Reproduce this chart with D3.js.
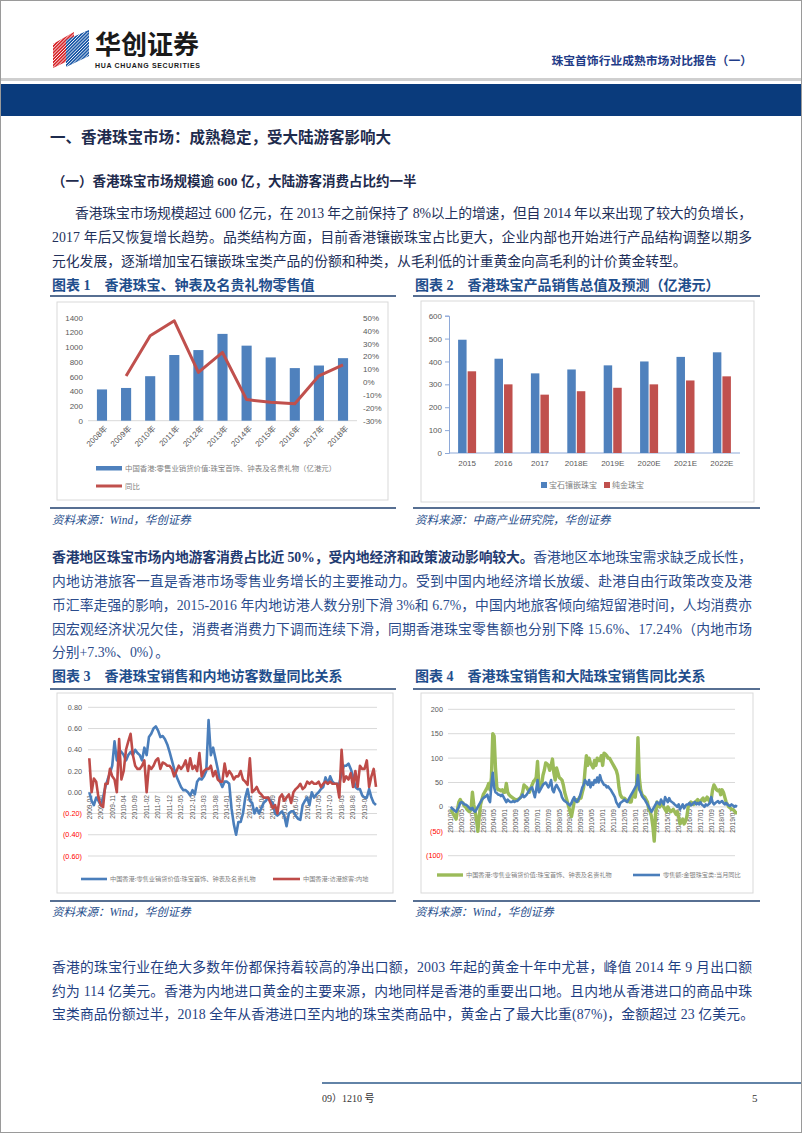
<!DOCTYPE html>
<html><head><meta charset="utf-8">
<script src="https://cdn.jsdelivr.net/npm/d3@7"></script>
<style>body{margin:0;background:#fff}svg{display:block}</style>
</head><body><div id="root"></div>
<script>
// ---------- DATA ----------
const years1 = ["2008年","2009年","2010年","2011年","2012年","2013年","2014年","2015年","2016年","2017年","2018年"];
const retail1 = [425,445,605,893,960,1180,1020,860,715,750,850];
const yoy1 = [null,4.7,36,47.6,7.5,23,-13.6,-15.7,-16.9,4.9,13.3];
const ticks1L = [0,200,400,600,800,1000,1200,1400];
const ticks1R = [-30,-20,-10,0,10,20,30,40,50];

const cats2 = ["2015","2016","2017","2018E","2019E","2020E","2021E","2022E"];
const gem2 = [495,412,348,365,383,400,420,440];
const gold2 = [357,300,255,270,285,300,317,335];
const ticks2 = [0,100,200,300,400,500,600];

const labels3 = ["2009-01","2009-06","2009-11","2010-04","2010-09","2011-02","2011-07","2011-12","2012-05","2012-10","2013-03","2013-08","2014-01","2014-06","2014-11","2015-04","2015-09","2016-02","2016-07","2016-12","2017-05","2017-10","2018-03","2018-08","2019-01"];
const ticks3 = [-0.6,-0.4,-0.2,0,0.2,0.4,0.6,0.8];
const hkJewel3 = [0.00,-0.08,-0.12,-0.05,-0.08,-0.12,-0.05,0.05,0.12,0.18,
0.25,0.48,0.30,0.40,0.38,0.35,0.30,0.35,0.38,0.35,
0.40,0.37,0.35,0.30,0.42,0.35,0.52,0.55,0.60,0.62,
0.58,0.52,0.53,0.50,0.45,0.38,0.30,0.22,0.15,0.10,
0.05,0.02,0.02,0.00,-0.03,0.02,-0.02,0.10,0.13,0.12,
0.15,0.20,0.68,0.35,0.42,0.32,0.22,0.10,0.05,0.10,
0.10,0.08,-0.15,-0.30,-0.40,-0.28,-0.28,-0.20,-0.05,0.03,
-0.08,-0.10,-0.20,-0.15,-0.20,-0.15,-0.10,-0.08,-0.05,-0.08,
-0.10,-0.20,-0.22,-0.20,-0.18,-0.22,-0.32,-0.20,-0.18,-0.18,
-0.22,-0.25,-0.26,-0.12,-0.08,-0.05,-0.12,0.00,-0.05,-0.02,
0.00,0.03,0.05,0.14,0.08,0.15,0.10,0.08,0.08,0.08,
0.18,0.25,0.25,0.27,0.22,0.15,0.05,0.03,0.03,-0.03,
-0.05,-0.05,0.03,-0.05,-0.10,-0.12];
const visitors3 = [0.32,0.00,0.13,0.10,-0.05,-0.12,-0.14,0.08,0.08,0.22,
0.15,0.12,0.00,0.50,0.12,0.20,0.40,0.48,0.55,0.35,
0.25,0.22,0.22,0.25,0.30,0.00,0.25,0.22,0.25,0.30,
0.32,0.22,0.28,0.27,0.25,0.25,0.22,0.15,0.20,0.25,
0.22,0.25,0.30,0.20,0.32,0.22,0.25,0.20,0.37,0.15,
0.20,0.22,0.22,0.25,0.15,0.20,0.12,0.10,0.10,0.27,
0.15,0.20,0.17,0.12,0.15,0.15,0.20,0.12,0.10,0.07,
0.32,0.00,0.02,0.05,0.00,-0.02,-0.05,-0.05,-0.05,-0.10,
-0.15,-0.12,-0.20,-0.05,-0.02,-0.08,-0.05,-0.02,-0.10,0.00,
0.03,0.05,0.08,0.03,0.05,0.10,0.08,0.10,0.08,0.08,
0.10,0.05,0.08,0.10,0.08,0.10,0.08,0.08,0.08,-0.05,
0.40,0.10,0.15,0.12,0.18,0.05,0.20,0.05,0.25,0.22,
0.22,0.30,0.05,0.15,0.22,0.05];

const labels4 = ["2001/09","2002/05","2003/01","2003/09","2004/05","2005/01","2005/09","2006/05","2007/01","2007/09","2008/05","2009/01","2009/09","2010/05","2011/01","2011/09","2012/05","2013/01","2013/09","2014/05","2015/01","2015/09","2016/05","2017/01","2017/09","2018/05","2019/01"];
const ticks4 = [-100,-50,0,50,100,150,200];
const hkJewel4 = [-5,-10,-15,-20,-25,-5,10,15,10,8,
2,0,-5,-8,-10,-5,30,5,-10,-25,
-50,-20,5,15,25,30,35,40,48,35,
60,150,145,80,40,35,35,33,35,30,
30,48,30,25,22,20,18,16,15,15,
16,18,22,30,45,42,40,35,30,38,
45,52,55,60,93,40,42,45,65,75,
90,88,85,75,85,98,70,55,80,70,
60,58,55,45,30,20,10,0,-10,-20,
-5,10,15,15,12,20,18,30,40,75,
105,85,100,90,85,80,95,85,100,95,
95,105,85,110,108,105,100,100,95,90,
85,80,75,65,40,25,20,18,18,15,
12,12,10,10,25,30,20,45,142,60,
35,25,22,20,15,10,-5,-10,-20,-40,
-70,-15,10,5,0,5,5,0,-5,-10,
0,-5,-10,-8,-5,-10,-15,-10,-20,-35,
-30,-25,-35,-30,-20,0,5,10,8,5,
10,12,15,12,10,15,18,12,15,20,
15,10,15,35,45,40,35,33,35,25,
35,30,20,10,5,0,-2,-5,-5,-8,
-12,-12];
const mainland4 = [0,-3,-5,-8,-10,-5,0,8,10,8,
5,5,3,0,-3,-5,-2,-8,-10,-5,
0,5,10,15,18,20,22,25,15,10,
45,70,40,30,28,25,25,22,25,20,
15,10,15,12,10,10,12,10,12,12,
15,18,20,25,20,22,25,30,35,38,
40,30,20,35,55,30,35,40,45,48,
50,45,40,45,55,35,30,40,45,40,
35,30,20,15,12,10,8,5,3,8,
15,20,12,10,15,20,30,40,45,55,
50,45,55,40,50,45,55,50,60,50,
65,55,50,45,45,40,42,38,35,30,
25,20,10,5,0,8,10,12,15,12,
10,15,20,25,30,35,40,45,65,35,
30,22,18,15,10,5,0,-5,-10,-5,
0,5,10,8,5,15,10,5,20,15,
10,18,12,10,8,5,3,0,5,-5,
0,5,-3,2,5,5,8,3,5,8,
10,5,8,5,10,5,3,0,5,3,
5,8,20,10,5,8,10,12,8,10,
12,8,5,8,5,3,2,5,3,0,
2,0];

// ---------- SETUP ----------
const W=802,H=1133;
const CJK="'Noto Sans CJK SC','Noto Sans',sans-serif";
const SER="'Liberation Serif','Noto Sans CJK SC',serif";
const SANS="'Liberation Sans','Noto Sans CJK SC',sans-serif";
const BLUE="#4f81bd", RED="#c0504d", GREEN="#9bbb59", LBLUE="#4a7ebb";
const TICK="#595959";
const svg=d3.select("#root").append("svg").attr("width",W).attr("height",H);

function T(g,x,y,s,o={}){
  const t=g.append("text").attr("x",x).attr("y",y).attr("dy",o.dy||"0.35em")
    .attr("font-family",o.ff||CJK).attr("font-size",o.fs||12).attr("fill",o.fill||"#000").text(s);
  if(o.fw)t.attr("font-weight",o.fw);
  if(o.anchor)t.attr("text-anchor",o.anchor);
  if(o.italic)t.attr("font-style","italic");
  if(o.len)t.attr("textLength",o.len).attr("lengthAdjust","spacing");
  return t;
}
function L(g,x1,y1,x2,y2,c,w){return g.append("line").attr("x1",x1).attr("y1",y1).attr("x2",x2).attr("y2",y2).attr("stroke",c).attr("stroke-width",w);}

// page border
svg.append("rect").attr("x",0.5).attr("y",0.5).attr("width",W-1).attr("height",H-1).attr("fill","none").attr("stroke","#9a9a9a");

// ---------- HEADER ----------
const logo=svg.append("g");
const defs=svg.append("defs");
defs.append("clipPath").attr("id","icoR").append("polygon").attr("points","53,44 74,32 74,58 53,68");
defs.append("clipPath").attr("id","icoB").append("polygon").attr("points","66,40 89,30 89,56 66,67");
const gr=logo.append("g").attr("clip-path","url(#icoR)");
gr.append("rect").attr("x",50).attr("y",28).attr("width",30).attr("height",44).attr("fill","#d7262b");
const gb=logo.append("g").attr("clip-path","url(#icoB)");
gb.append("rect").attr("x",62).attr("y",26).attr("width",30).attr("height",44).attr("fill","#1d5aa8");
[gr,gb].forEach(g=>{for(let k=-40;k<60;k+=3.2){g.append("line").attr("x1",50+k).attr("y1",72).attr("x2",90+k).attr("y2",32).attr("stroke","#fff").attr("stroke-width",0.9);}});
T(logo,95,45,"华创证券",{fs:26,fw:"bold",fill:"#1a1a1a"});
T(logo,95,66,"HUA CHUANG SECURITIES",{fs:7,fw:"bold",ff:SANS,fill:"#1a1a1a",len:105});
T(svg,752,61,"珠宝首饰行业成熟市场对比报告（一）",{fs:11.8,fw:"bold",fill:"#1f3c88",anchor:"end"});
svg.append("rect").attr("x",1).attr("y",78).attr("width",W-2).attr("height",3).attr("fill","#cfcfcf");
svg.append("rect").attr("x",1).attr("y",84).attr("width",W-2).attr("height",32).attr("fill","#0a3b7c");

// ---------- TEXT ----------
const NAVY="#1e2b4d";
T(svg,50,138,"一、香港珠宝市场：成熟稳定，受大陆游客影响大",{fs:15.5,fw:"bold",fill:NAVY});
T(svg,52,181,"（一）香港珠宝市场规模逾 600 亿，大陆游客消费占比约一半",{fs:13.5,fw:"bold",fill:NAVY,ff:SER});

const P1C="#22305a";
T(svg,75,213,"香港珠宝市场规模超过 600 亿元，在 2013 年之前保持了 8%以上的增速，但自 2014 年以来出现了较大的负增长，",{fs:13.8,ff:SER,fill:P1C,len:677});
T(svg,52,237,"2017 年后又恢复增长趋势。品类结构方面，目前香港镶嵌珠宝占比更大，企业内部也开始进行产品结构调整以期多",{fs:13.8,ff:SER,fill:P1C,len:700});
T(svg,52,261,"元化发展，逐渐增加宝石镶嵌珠宝类产品的份额和种类，从毛利低的计重黄金向高毛利的计价黄金转型。",{fs:13.8,ff:SER,fill:P1C});

const P2C="#2b4c8c";
const t2=T(svg,52,557,"",{fs:13.8,ff:SER,fill:P2C,len:700});
t2.append("tspan").attr("font-weight","bold").attr("fill","#1f3a70").text("香港地区珠宝市场内地游客消费占比近 50%，受内地经济和政策波动影响较大。");
t2.append("tspan").text("香港地区本地珠宝需求缺乏成长性，");
T(svg,52,581,"内地访港旅客一直是香港市场零售业务增长的主要推动力。受到中国内地经济增长放缓、赴港自由行政策改变及港",{fs:13.8,ff:SER,fill:P2C,len:700});
T(svg,52,605,"币汇率走强的影响，2015-2016 年内地访港人数分别下滑 3%和 6.7%，中国内地旅客倾向缩短留港时间，人均消费亦",{fs:13.8,ff:SER,fill:P2C,len:700});
T(svg,52,629,"因宏观经济状况欠佳，消费者消费力下调而连续下滑，同期香港珠宝零售额也分别下降 15.6%、17.24%（内地市场",{fs:13.8,ff:SER,fill:P2C,len:700});
T(svg,52,652,"分别+7.3%、0%）。",{fs:13.8,ff:SER,fill:P2C});

const P3C="#1f3f82";
T(svg,52,967,"香港的珠宝行业在绝大多数年份都保持着较高的净出口额，2003 年起的黄金十年中尤甚，峰值 2014 年 9 月出口额",{fs:13.8,ff:SER,fill:P3C,len:700});
T(svg,52,991,"约为 114 亿美元。香港为内地进口黄金的主要来源，内地同样是香港的重要出口地。且内地从香港进口的商品中珠",{fs:13.8,ff:SER,fill:P3C,len:700});
T(svg,52,1014,"宝类商品份额过半，2018 全年从香港进口至内地的珠宝类商品中，黄金占了最大比重(87%)，金额超过 23 亿美元。",{fs:13.8,ff:SER,fill:P3C,len:702});

// footer
L(svg,322,1083,W-1,1083,"#2e5a8a",1.5);
T(svg,322,1098,"09）1210 号",{fs:10,ff:SER,fill:"#333"});
T(svg,752,1098,"5",{fs:11,ff:SER,fill:"#333"});

// chart frames: titles, rules, sources
const TCOL="#1f4e8c";
const SP="\u00a0\u00a0\u00a0\u00a0";
function frame(x0,x1,ty,ry1,ry2,sy,title,src){
  T(svg,x0+2,ty,title,{fs:14,fw:"bold",fill:TCOL,ff:SER});
  L(svg,x0,ry1,x1,ry1,"#1f3f6e",1.6);
  L(svg,x0,ry2,x1,ry2,"#1f3f6e",1.6);
  T(svg,x0+2,sy,src,{fs:11.5,italic:true,fill:TCOL,ff:SER});
}
frame(50,396,285,296,508,520,"图表\u00a01"+SP+"香港珠宝、钟表及名贵礼物零售值","资料来源：Wind，华创证券");
frame(413,760,285,296,508,520,"图表\u00a02"+SP+"香港珠宝产品销售总值及预测（亿港元）","资料来源：中商产业研究院，华创证券");
frame(50,396,676,689,901,912,"图表\u00a03"+SP+"香港珠宝销售和内地访客数量同比关系","资料来源：Wind，华创证券");
frame(413,760,676,689,901,912,"图表\u00a04"+SP+"香港珠宝销售和大陆珠宝销售同比关系","资料来源：Wind，华创证券");

function box(x,y,w,h){svg.append("rect").attr("x",x).attr("y",y).attr("width",w).attr("height",h).attr("fill","#fff").attr("stroke","#d9d9d9").attr("stroke-width",1);}
function styleAxis(g,fs,ff){g.select(".domain").remove();g.selectAll("text").attr("font-size",fs).attr("font-family",ff||SANS).attr("fill",TICK);}

// ---------- CHART 1 ----------
box(57,302,331,198);
const c1=svg.append("g");
const x1=d3.scaleBand().domain(years1).range([88,357]).paddingInner(0.58).paddingOuter(0.37);
const y1L=d3.scaleLinear().domain([0,1400]).range([420.7,317.7]);
const y1R=d3.scaleLinear().domain([-30,50]).range([420.7,317.7]);
c1.append("g").attr("transform","translate(88,0)").call(d3.axisLeft(y1L).tickValues(ticks1L).tickFormat(d3.format("d")).tickSize(0).tickPadding(5)).call(g=>styleAxis(g,8));
c1.append("g").attr("transform","translate(356,0)").call(d3.axisRight(y1R).tickValues(ticks1R).tickFormat(d=>d+"%").tickSize(0).tickPadding(7)).call(g=>styleAxis(g,8));
L(c1,88,420.7,357,420.7,"#d9d9d9",1);
c1.selectAll("rect.b").data(retail1).join("rect").attr("x",(d,i)=>x1(years1[i])).attr("width",x1.bandwidth())
  .attr("y",d=>y1L(d)).attr("height",d=>y1L(0)-y1L(d)).attr("fill",BLUE);
c1.append("path").datum(yoy1).attr("fill","none").attr("stroke",RED).attr("stroke-width",3).attr("stroke-linejoin","round")
  .attr("d",d3.line().defined(d=>d!=null).x((d,i)=>x1(years1[i])+x1.bandwidth()/2).y(d=>y1R(d)));
years1.forEach(yr=>{
  c1.append("text").attr("transform",`translate(${x1(yr)+x1.bandwidth()/2+4},427) rotate(-45)`).attr("text-anchor","end")
    .attr("dy","0.35em").attr("font-size",8).attr("font-family",SANS).attr("fill",TICK).text(yr);
});
c1.append("rect").attr("x",96).attr("y",466).attr("width",26).attr("height",4.5).attr("fill",BLUE);
T(c1,125,468,"中国香港:零售业销货价值:珠宝首饰、钟表及名贵礼物（亿港元）",{fs:7.4,fill:"#7f7f7f"});
L(c1,96,486,122,486,RED,3);
T(c1,125,486,"同比",{fs:7.4,fill:"#7f7f7f"});

// ---------- CHART 2 ----------
box(421,301,333,201);
const c2=svg.append("g");
const x2=d3.scaleBand().domain(cats2).range([449,740]).paddingInner(0.505).paddingOuter(0.25);
const x2s=d3.scaleBand().domain(["gem","gold"]).range([0,x2.bandwidth()]).paddingInner(0.11);
const y2=d3.scaleLinear().domain([0,600]).range([453,315.7]);
const ax2=c2.append("g").attr("transform","translate(449,0)").call(d3.axisLeft(y2).tickValues(ticks2).tickSize(4).tickPadding(3));
ax2.select(".domain").attr("stroke","#8ea9d8");ax2.selectAll("line").attr("stroke","#8ea9d8");
ax2.selectAll("text").attr("font-size",8).attr("font-family",SANS).attr("fill",TICK);
L(c2,449,453,740,453,"#8ea9d8",1);
c2.selectAll("rect.g").data(gem2).join("rect").attr("x",(d,i)=>x2(cats2[i])+x2s("gem")).attr("width",x2s.bandwidth())
  .attr("y",d=>y2(d)).attr("height",d=>y2(0)-y2(d)).attr("fill",BLUE);
c2.selectAll("rect.r").data(gold2).join("rect").attr("x",(d,i)=>x2(cats2[i])+x2s("gold")).attr("width",x2s.bandwidth())
  .attr("y",d=>y2(d)).attr("height",d=>y2(0)-y2(d)).attr("fill",RED);
cats2.forEach(c=>T(c2,x2(c)+x2.bandwidth()/2,463.5,c,{fs:8,ff:SANS,fill:TICK,anchor:"middle"}));
c2.append("rect").attr("x",541).attr("y",482).attr("width",6).attr("height",6).attr("fill",BLUE);
T(c2,549,485,"宝石镶嵌珠宝",{fs:8,fill:"#7f7f7f"});
c2.append("rect").attr("x",604).attr("y",482).attr("width",6).attr("height",6).attr("fill",RED);
T(c2,612,485,"纯金珠宝",{fs:8,fill:"#7f7f7f"});

// ---------- CHART 3 ----------
box(57,693,336,200);
const c3=svg.append("g");
const x3=d3.scaleLinear().domain([0,hkJewel3.length-1]).range([89.3,376]);
const y3=d3.scaleLinear().domain([-0.6,0.8]).range([856,707.3]);
const fmt3=d=>{const s=Math.abs(d).toFixed(2);return d<0?"("+s+")":s;};
ticks3.forEach(v=>{
  L(c3,88,y3(v),377,y3(v),"#d9d9d9",1);
  T(c3,82,y3(v),fmt3(v),{fs:7.3,ff:SANS,fill:v<0?"#ff0000":TICK,anchor:"end"});
});
labels3.forEach((lb,i)=>{
  c3.append("text").attr("transform",`translate(${x3(i*5)},795) rotate(-90)`).attr("text-anchor","end").attr("dy","0.35em")
    .attr("font-size",6.6).attr("font-family",SANS).attr("fill",TICK).text(lb);
});
const line3=d3.line().x((d,i)=>x3(i)).y(d=>y3(d));
c3.append("path").datum(hkJewel3).attr("fill","none").attr("stroke",LBLUE).attr("stroke-width",2.6).attr("stroke-linejoin","round").attr("d",line3);
c3.append("path").datum(visitors3).attr("fill","none").attr("stroke","#be4b48").attr("stroke-width",2.6).attr("stroke-linejoin","round").attr("d",line3);
L(c3,81,879,107,879,LBLUE,2.6);
T(c3,110,879,"中国香港:零售业销货价值:珠宝首饰、钟表及名贵礼物",{fs:6.2,fill:"#7f7f7f"});
L(c3,273,879,300,879,"#be4b48",2.6);
T(c3,303,879,"中国香港:访港旅客:内地",{fs:6.2,fill:"#7f7f7f"});

// ---------- CHART 4 ----------
box(421,693,332,200);
const c4=svg.append("g");
const x4=d3.scaleLinear().domain([0,hkJewel4.length-1]).range([450.7,737]);
const y4=d3.scaleLinear().domain([-100,200]).range([855.7,709.3]);
const fmt4=d=>d<0?"("+Math.abs(d)+")":String(d);
ticks4.forEach(v=>{
  L(c4,448,y4(v),735,y4(v),"#d9d9d9",1);
  T(c4,443,y4(v),fmt4(v),{fs:7.3,ff:SANS,fill:v<0?"#ff0000":TICK,anchor:"end"});
});
labels4.forEach((lb,i)=>{
  c4.append("text").attr("transform",`translate(${x4(i*8)},809) rotate(-90)`).attr("text-anchor","end").attr("dy","0.35em")
    .attr("font-size",6.6).attr("font-family",SANS).attr("fill",TICK).text(lb);
});
const line4=d3.line().x((d,i)=>x4(i)).y(d=>y4(d));
c4.append("path").datum(hkJewel4).attr("fill","none").attr("stroke",GREEN).attr("stroke-width",3.4).attr("stroke-linejoin","round").attr("d",line4);
c4.append("path").datum(mainland4).attr("fill","none").attr("stroke",LBLUE).attr("stroke-width",2.6).attr("stroke-linejoin","round").attr("d",line4);
L(c4,437,875,463,875,GREEN,3.4);
T(c4,466,875,"中国香港:零售业销货价值:珠宝首饰、钟表及名贵礼物",{fs:6.2,fill:"#7f7f7f"});
L(c4,633,875,660,875,LBLUE,2.6);
T(c4,663,875,"零售额:金银珠宝类:当月同比",{fs:6.2,fill:"#7f7f7f"});
</script>
</body></html>
